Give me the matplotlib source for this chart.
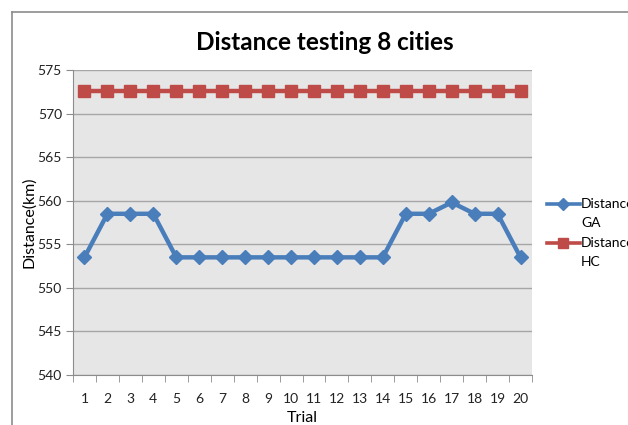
import matplotlib
matplotlib.use("Agg")
import matplotlib.pyplot as plt
from matplotlib.lines import Line2D
import numpy as np

trials = list(range(1, 21))
distance_ga = [553.5, 558.5, 558.5, 558.5, 553.5, 553.5, 553.5, 553.5, 553.5, 553.5,
               553.5, 553.5, 553.5, 553.5, 558.5, 558.5, 559.8, 558.5, 558.5, 553.5]
distance_hc = [572.6] * 20
yticks = [540, 545, 550, 555, 560, 565, 570, 575]
series_names = ['Distance\nGA', 'Distance\nHC']

plt.rcParams['font.family'] = ['Lato', 'DejaVu Sans']

W, H = 628, 425
fig = plt.figure(figsize=(W / 100, H / 100), dpi=100)
fig.patch.set_facecolor('white')

# outer chart frame (top and left edges visible)
fig.add_artist(Line2D([11.5 / W, 1], [1 - 11.5 / H, 1 - 11.5 / H], color='#8c8c8c', lw=1.2))
fig.add_artist(Line2D([11.5 / W, 11.5 / W], [0, 1 - 11.5 / H], color='#8c8c8c', lw=1.2))

left, right, top, bottom = 73, 532, 70, 375
ax = fig.add_axes([left / W, 1 - bottom / H, (right - left) / W, (bottom - top) / H])
ax.set_facecolor('#e6e6e6')

ax.set_ylim(540, 575)
ax.set_xlim(0.5, 20.5)
ax.set_yticks(yticks)
ax.yaxis.grid(True, color='#a6a6a6', lw=1)
ax.set_axisbelow(True)

styles = [dict(color='#4a7ebb', marker='D', ms=7), dict(color='#be4b48', marker='s', ms=9)]
for vals, name, st in zip([distance_ga, distance_hc], series_names, styles):
    ax.plot(trials, vals, lw=3.2, label=name, zorder=3, **st)

ax.set_xticks(trials)
ax.set_xticklabels([str(t) for t in trials])
ax.set_xticks(np.arange(0.5, 21, 1), minor=True)
ax.tick_params(axis='x', which='major', length=0, pad=13, labelsize=10, colors='#222222')
ax.tick_params(axis='x', which='minor', length=5, color='#8c8c8c', direction='out')
ax.tick_params(axis='y', length=5, color='#8c8c8c', direction='out', labelsize=10,
               labelcolor='#222222', pad=3)

for s in ['top', 'right']:
    ax.spines[s].set_visible(False)
ax.spines['left'].set_color('#8c8c8c')
ax.spines['bottom'].set_color('#8c8c8c')

ax.set_xlabel('Trial', fontsize=11.5, labelpad=4)
ax.set_ylabel('Distance(km)', fontsize=11.5, labelpad=1)

fig.text(325 / W, 1 - 42 / H, 'Distance testing 8 cities', ha='center', va='center',
         fontsize=17.5, fontweight='bold')

# legend drawn to match the original layout (handle aligned with first text line)
leg_y = [204, 243]
for y, name, st in zip(leg_y, series_names, styles):
    fig.add_artist(Line2D([547 / W, 580 / W], [1 - y / H, 1 - y / H], color=st['color'],
                          lw=2.6))
    fig.add_artist(Line2D([563 / W], [1 - y / H], color=st['color'], marker=st['marker'],
                          ms=st['ms'] * 0.85, lw=0))
    first, second = name.split('\n')
    fig.text(581 / W, 1 - y / H, first, ha='left', va='center', fontsize=10)
    fig.text(581 / W, 1 - (y + 19) / H, second, ha='left', va='center', fontsize=10)

fig.savefig('out.png', dpi=100)
